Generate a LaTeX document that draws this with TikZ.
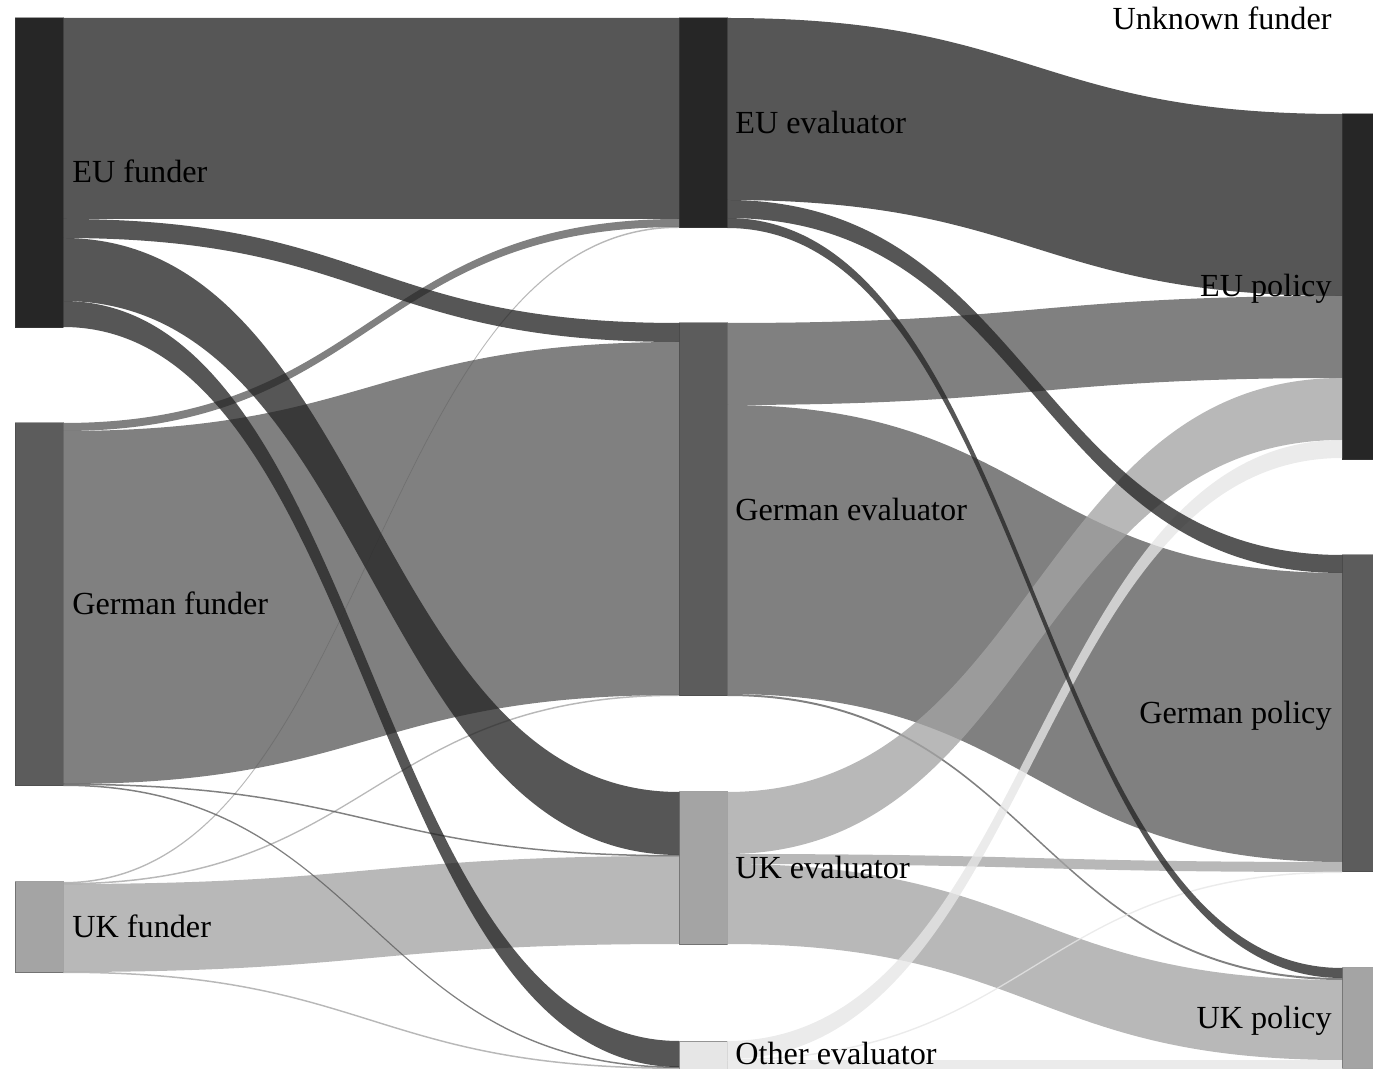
\documentclass[tikz,border=0pt]{standalone}
\usepackage{fontspec}
\setmainfont{Liberation Serif}
\usetikzlibrary{calc}
\definecolor{cEU}{RGB}{38,38,38}
\definecolor{cDE}{RGB}{92,92,92}
\definecolor{cUK}{RGB}{164,164,164}
\definecolor{cOT}{RGB}{230,230,230}
\definecolor{cEdge}{RGB}{68,68,68}
% \flow{source}{offset in source}{target}{offset in target}{width}{colour}
\newcommand\flow[6]{%
\fill[#6, fill opacity=0.78]
 let \p1=($(#1.north east)+(0,#2)$),
     \p2=($(#3.north west)+(0,#4)$),
     \n1={0.5*(\x1+\x2)},
     \n2={#5*0.5pt}
 in (\x1,\y1) .. controls (\n1,\y1) and (\n1,\y2) .. (\x2,\y2)
 -- (\x2,\y2-\n2) .. controls (\n1,\y2-\n2) and (\n1,\y1-\n2) .. (\x1,\y1-\n2) -- cycle;}
\begin{document}
\begin{tikzpicture}[x=0.5pt,y=-0.5pt,
  nbox/.style={rectangle, inner sep=0pt, outer sep=0pt, minimum width=24pt,
    anchor=north west, draw=cEdge, draw opacity=0.5, line width=0.5pt},
  lbl/.style={inner sep=0pt, font=\fontsize{16.1}{19}\selectfont, text=black},
  lblr/.style={lbl, anchor=base west},
  lbll/.style={lbl, anchor=base east}]
\useasboundingbox (0,0) rectangle (1373,1069);
\clip (0,0) rectangle (1373,1069);
% nodes
\node[nbox, fill=cEU, minimum height=155pt] (EUf) at (15,18) {};
\node[nbox, fill=cDE, minimum height=181.5pt] (DEf) at (15,423) {};
\node[nbox, fill=cUK, minimum height=45.5pt] (UKf) at (15,882) {};
\node[nbox, fill=cEU, minimum height=105pt] (EUe) at (679,18) {};
\node[nbox, fill=cDE, minimum height=186.5pt] (DEe) at (679,323) {};
\node[nbox, fill=cUK, minimum height=76.5pt] (UKe) at (679,792) {};
\node[nbox, fill=cOT, minimum height=14pt] (OTe) at (679,1041) {};
\node[nbox, fill=cEU, minimum height=173pt] (EUp) at (1342,114) {};
\node[nbox, fill=cDE, minimum height=158.5pt] (DEp) at (1342,555) {};
\node[nbox, fill=cUK, minimum height=50pt] (UKp) at (1342,968) {};
% funder -> evaluator
\flow{UKf}{0}{EUe}{208.5}{1.5}{cUK}
\flow{UKf}{1}{DEe}{371.5}{1.5}{cUK}
\flow{UKf}{2}{UKe}{64}{88}{cUK}
\flow{UKf}{89.5}{OTe}{26.5}{1.5}{cUK}
\flow{DEf}{0}{EUe}{201}{8}{cDE}
\flow{DEf}{8}{DEe}{19}{353}{cDE}
\flow{DEf}{360.5}{UKe}{63}{1.5}{cDE}
\flow{DEf}{361.5}{OTe}{25.5}{1.5}{cDE}
\flow{EUf}{0}{EUe}{0}{201}{cEU}
\flow{EUf}{201}{DEe}{0}{19}{cEU}
\flow{EUf}{220}{UKe}{0}{63}{cEU}
\flow{EUf}{283}{OTe}{0}{26}{cEU}
% evaluator -> policy
\flow{DEe}{0}{EUp}{182}{82}{cDE}
\flow{DEe}{82}{DEp}{18}{289}{cDE}
\flow{DEe}{371}{UKp}{10}{2}{cDE}
\flow{UKe}{0}{EUp}{264}{62}{cUK}
\flow{UKe}{62}{DEp}{307}{10}{cUK}
\flow{UKe}{72}{UKp}{12}{80}{cUK}
\flow{OTe}{0}{EUp}{326}{18}{cOT}
\flow{OTe}{18}{DEp}{316.5}{1.5}{cOT}
\flow{OTe}{19}{UKp}{92}{9}{cOT}
\flow{EUe}{0}{EUp}{0}{182}{cEU}
\flow{EUe}{182}{DEp}{0}{18}{cEU}
\flow{EUe}{200}{UKp}{0}{10}{cEU}
% labels
\node[lblr] (tEUf) at (72,183) {EU funder};
\node[lblr] (tDEf) at (72,615) {German funder};
\node[lblr] (tUKf) at (72,938) {UK funder};
\node[lblr] (tEUe) at (735,134) {EU evaluator};
\node[lblr] (tDEe) at (735,521) {German evaluator};
\node[lblr] (tUKe) at (735,879) {UK evaluator};
\node[lblr] (tOTe) at (735,1065) {Other evaluator};
\node[lbll] (tUNf) at (1332,30) {Unknown funder};
\node[lbll] (tEUp) at (1332,297) {EU policy};
\node[lbll] (tDEp) at (1332,724) {German policy};
\node[lbll] (tUKp) at (1332,1029) {UK policy};
\end{tikzpicture}
\end{document}
